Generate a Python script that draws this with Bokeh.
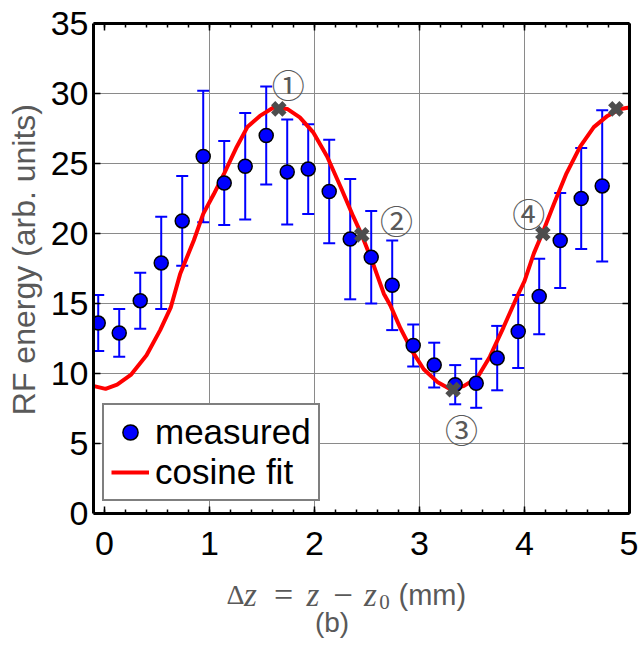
import numpy as np
from bokeh.plotting import figure
from bokeh.layouts import column
from bokeh.models import (Range1d, LinearAxis, FixedTicker, Legend, LegendItem, Label)
from bokeh.core.properties import value
from bokeh.embed import file_html
from bokeh.resources import INLINE

# ---- data ----
dz_measured = [-0.06, 0.14, 0.34, 0.54, 0.74, 0.94, 1.14, 1.34, 1.54, 1.74,
               1.94, 2.14, 2.34, 2.54, 2.74, 2.94, 3.14, 3.34, 3.54, 3.74,
               3.94, 4.14, 4.34, 4.54, 4.74]
energy_measured = [13.6, 12.9, 15.2, 17.9, 20.9, 25.5, 23.6, 24.8, 27.0, 24.4,
                   24.6, 23.0, 19.6, 18.3, 16.3, 12.0, 10.6, 9.2, 9.3, 11.1,
                   13.0, 15.5, 19.5, 22.5, 23.4]
energy_error = [2.0, 1.7, 2.0, 3.3, 3.2, 4.7, 3.0, 3.8, 3.5, 3.75,
                3.2, 3.7, 4.3, 3.3, 3.2, 1.5, 1.6, 1.4, 1.75, 2.3,
                2.6, 2.7, 3.4, 3.6, 5.4]

fit_dz = [-0.10, 0.01, 0.12, 0.25, 0.40, 0.53, 0.63, 0.72, 0.85, 0.94,
          1.04, 1.14, 1.26, 1.36, 1.48, 1.61, 1.74, 1.86, 1.99, 2.12,
          2.25, 2.37, 2.45, 2.56, 2.66, 2.72, 2.82, 2.93, 3.04, 3.17,
          3.29, 3.42, 3.55, 3.67, 3.80, 3.93, 4.00, 4.09, 4.18, 4.28,
          4.40, 4.53, 4.66, 4.79, 4.91, 5.00]
fit_energy = [9.1, 8.9, 9.2, 9.9, 11.3, 13.1, 14.7, 17.1, 19.5, 21.4,
              22.8, 24.3, 26.2, 27.6, 28.4, 29.0, 28.9, 28.3, 27.2, 25.5,
              23.3, 21.2, 19.9, 17.8, 15.7, 14.9, 13.2, 11.6, 10.3, 9.4,
              8.9, 9.1, 9.7, 11.2, 13.3, 15.5, 16.6, 18.6, 20.2, 22.1,
              24.3, 26.2, 27.6, 28.4, 28.9, 29.0]

special_dz = [1.66, 2.45, 3.32, 4.175, 4.87]
special_energy = [28.9, 19.9, 8.85, 20.0, 28.9]

marker_labels = ["①", "②", "③", "④"]
marker_label_dz = [1.75, 2.78, 3.40, 4.04]
marker_label_energy = [30.7, 21.0, 6.05, 21.5]

x_ticks = [0, 1, 2, 3, 4, 5]
x_minor_ticks = [round(i * 0.2, 1) for i in range(0, 26)]
y_ticks = [0, 5, 10, 15, 20, 25, 30, 35]

SANS = "Liberation Sans"
SERIF = "Liberation Serif"
GRAY = "#595959"

p = figure(width=638, height=565,
           x_range=Range1d(-0.105, 5.0), y_range=Range1d(0, 35),
           output_backend="svg", toolbar_location=None,
           min_border_left=93, min_border_right=9,
           min_border_top=23, min_border_bottom=52)
p.background_fill_color = "white"
p.border_fill_color = "white"
p.outline_line_color = None

xt = FixedTicker(ticks=x_ticks, minor_ticks=x_minor_ticks)
yt = FixedTicker(ticks=y_ticks, minor_ticks=[])

def style_axis(ax, ticker, show_labels):
    ax.ticker = ticker
    ax.axis_line_width = 3
    ax.axis_line_color = "black"
    ax.major_tick_in = 7
    ax.major_tick_out = 0
    ax.minor_tick_in = 4
    ax.minor_tick_out = 0
    ax.major_tick_line_width = 1.5
    ax.minor_tick_line_width = 1.5
    ax.major_tick_line_color = "black"
    ax.minor_tick_line_color = "black"
    if show_labels:
        ax.major_label_text_font = SANS
        ax.major_label_text_font_size = "34px"
        ax.major_label_text_color = "black"
    else:
        ax.major_label_text_font_size = "0px"
        ax.major_label_text_alpha = 0
        ax.major_label_standoff = 0

style_axis(p.xaxis[0], xt, True)
style_axis(p.yaxis[0], yt, True)
p.xaxis[0].major_label_standoff = 18
p.yaxis[0].major_label_standoff = 5
p.yaxis[0].minor_tick_line_color = None
p.yaxis[0].axis_label = "\u00a0\u00a0RF energy (arb. units)"
p.yaxis[0].axis_label_text_font = SANS
p.yaxis[0].axis_label_text_font_size = "32px"
p.yaxis[0].axis_label_text_font_style = "normal"
p.yaxis[0].axis_label_text_color = GRAY
p.yaxis[0].axis_label_standoff = 6

top = LinearAxis()
style_axis(top, xt, False)
p.add_layout(top, "above")
right = LinearAxis()
style_axis(right, yt, False)
right.minor_tick_line_color = None
p.add_layout(right, "right")

p.xgrid.ticker = FixedTicker(ticks=[1, 2, 3, 4])
p.ygrid.ticker = FixedTicker(ticks=[5, 10, 15, 20, 25, 30])
for g in (p.xgrid[0], p.ygrid[0]):
    g.grid_line_color = "#8a8a8a"
    g.grid_line_width = 1

lower = [e - d for e, d in zip(energy_measured, energy_error)]
upper = [e + d for e, d in zip(energy_measured, energy_error)]

p.segment(x0=dz_measured, y0=lower, x1=dz_measured, y1=upper,
          line_color="#0000ff", line_width=2)
p.scatter(x=dz_measured + dz_measured, y=lower + upper, marker="dash",
          size=12, line_color="#0000ff", line_width=2)

r_fit = p.line(fit_dz, fit_energy, line_color="#ff0000", line_width=4)
r_meas = p.scatter(dz_measured, energy_measured, size=14,
                   fill_color="#0000ff", line_color="black", line_width=1.5)

p.scatter(special_dz, special_energy, marker="x", size=16,
          line_color="#4d4d4d", line_width=6)

p.text(x=marker_label_dz, y=marker_label_energy, text=marker_labels,
       text_font=value("Noto Sans CJK JP"), text_font_size="33px",
       text_color=GRAY, text_align="center", text_baseline="middle")

legend = Legend(items=[LegendItem(label="measured", renderers=[r_meas]),
                       LegendItem(label="cosine fit", renderers=[r_fit])],
                location=(9, 12))
legend.border_line_color = "black"
legend.border_line_width = 2
legend.background_fill_color = "white"
legend.background_fill_alpha = 1
legend.label_text_font = SANS
legend.label_text_font_size = "35px"
legend.label_text_color = "black"
legend.padding = 7
legend.spacing = 0
legend.margin = 0
legend.glyph_width = 38
legend.glyph_height = 38
legend.label_height = 38
legend.label_standoff = 6
p.add_layout(legend)

# ---- x-axis title and panel caption, in a text-only strip below ----
# strip coordinates: x = page pixel column, y = pixels above the page bottom
cap = figure(width=638, height=106, x_range=Range1d(93, 629), y_range=Range1d(0, 106),
             output_backend="svg", toolbar_location=None,
             x_axis_type=None, y_axis_type=None,
             min_border_left=93, min_border_right=9,
             min_border_top=0, min_border_bottom=0)
cap.grid.visible = False
cap.outline_line_color = None
cap.background_fill_color = "white"
cap.border_fill_color = "white"

pieces = [("Δ", 235, "normal", "28px", 77, SERIF, "center"),
          ("z", 250, "italic", "33px", 77, SERIF, "center"),
          ("=", 283, "normal", "34px", 77, SERIF, "center"),
          ("z", 312.5, "italic", "33px", 77, SERIF, "center"),
          ("−", 342.5, "normal", "35px", 77, SERIF, "center"),
          ("z", 370, "italic", "33px", 77, SERIF, "center"),
          ("0", 384, "normal", "21px", 70, SERIF, "center"),
          ("(mm)", 398, "normal", "29px", 77, SANS, "left"),
          ("(b)", 331.5, "normal", "28px", 49, SANS, "center")]
for txt, sx, style, size, sy, font, align in pieces:
    cap.add_layout(Label(x=sx, y=sy, text=txt, text_font=font,
                         text_font_style=style, text_font_size=size,
                         text_color=GRAY, text_align=align,
                         text_baseline="alphabetic"))

layout = column(p, cap, spacing=0)
open("out.html", "w").write(file_html(layout, INLINE))
